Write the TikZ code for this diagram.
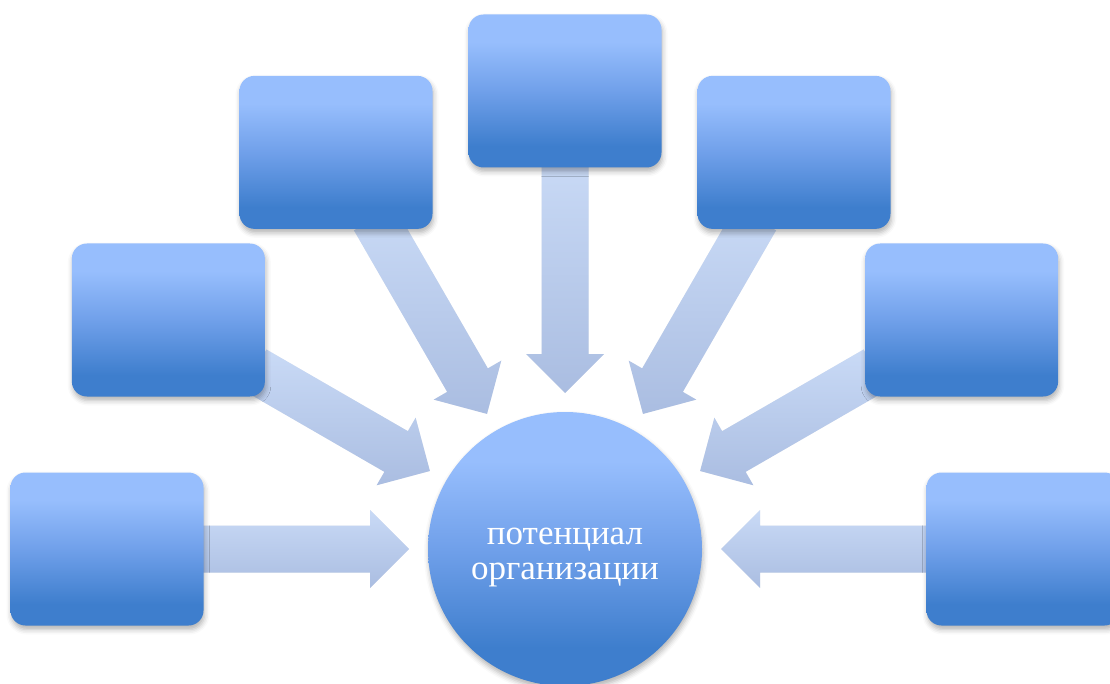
\documentclass[tikz,border=0pt]{standalone}
\usepackage{fontspec}
\setmainfont{Liberation Serif}
\usetikzlibrary{calc,shadows.blur}
\definecolor{boxtop}{RGB}{151,190,253}
\definecolor{boxmid}{RGB}{112,160,234}
\definecolor{boxbot}{RGB}{62,126,205}
\definecolor{arrlight}{RGB}{201,218,246}
\definecolor{arrdark}{RGB}{170,189,225}
\pgfdeclareverticalshading{boxshade}{100bp}{color(0bp)=(boxbot); color(32bp)=(boxbot); color(50bp)=(boxmid); color(66bp)=(boxtop); color(100bp)=(boxtop)}
\begin{document}
\begin{tikzpicture}[x=1pt,y=1pt,
  boxnode/.style={rectangle, rounded corners=15pt, minimum width=193pt,
    minimum height=153pt, inner sep=0pt, shade, shading=boxshade,
    blur shadow={shadow xshift=1pt, shadow yshift=-4pt, shadow blur radius=5pt,
      shadow opacity=30}},
  hubnode/.style={circle, minimum size=274pt, inner sep=0pt, shade, shading=boxshade,
    blur shadow={shadow xshift=1pt, shadow yshift=-4pt, shadow blur radius=5pt,
      shadow opacity=30}},
  hubtext/.style={text=white, align=center, inner sep=0pt,
    font=\fontsize{35}{35}\selectfont},
  arrowshape/.style={top color=arrlight, bottom color=arrdark},
  arrowshadow/.style={fill=black, fill opacity=0.06}]
\useasboundingbox (0,0) rectangle (1110,-684);
\coordinate (C) at (565,-549);
% box positions (invisible guides)
\foreach \i/\a in {1/180,2/150,3/120,4/90,5/60,6/30,7/0}{
  \path (C) ++(\a:458) coordinate (p\i);
  \node[rectangle, minimum width=193pt, minimum height=153pt, inner sep=0pt] (g\i) at (p\i) {};
}
% arrows
\foreach \i/\a in {1/180,2/150,3/120,4/90,5/60,6/30,7/0}{
  \pgfmathtruncatemacro\ang{mod(\a+180,360)}
  \coordinate (tip\i) at ($(C)!156pt!(g\i)$);
  \coordinate (tl\i) at ($(g\i.\ang)!-12pt!(tip\i)$);
  \coordinate (hb\i) at ($(tip\i)!39pt!(tl\i)$);
  \path[arrowshadow, xshift=1pt, yshift=-3pt]
    ($(tl\i)!23.5pt!90:(tip\i)$) -- ($(hb\i)!23.5pt!90:(tip\i)$)
    -- ($(hb\i)!39pt!90:(tip\i)$) -- (tip\i)
    -- ($(hb\i)!39pt!-90:(tip\i)$) -- ($(hb\i)!23.5pt!-90:(tip\i)$)
    -- ($(tl\i)!23.5pt!-90:(tip\i)$) -- cycle;
  \shade[arrowshape]
    ($(tl\i)!23.5pt!90:(tip\i)$) -- ($(hb\i)!23.5pt!90:(tip\i)$)
    -- ($(hb\i)!39pt!90:(tip\i)$) -- (tip\i)
    -- ($(hb\i)!39pt!-90:(tip\i)$) -- ($(hb\i)!23.5pt!-90:(tip\i)$)
    -- ($(tl\i)!23.5pt!-90:(tip\i)$) -- cycle;
}
\foreach \i in {1,...,7}{
  \node[boxnode] (b\i) at (p\i) {};
}
\node[hubnode] (hub) at (C) {};
\node[hubtext] (hublabel) at ($(C)+(0,-8)$) {потенциал\\организации};
\end{tikzpicture}
\end{document}
